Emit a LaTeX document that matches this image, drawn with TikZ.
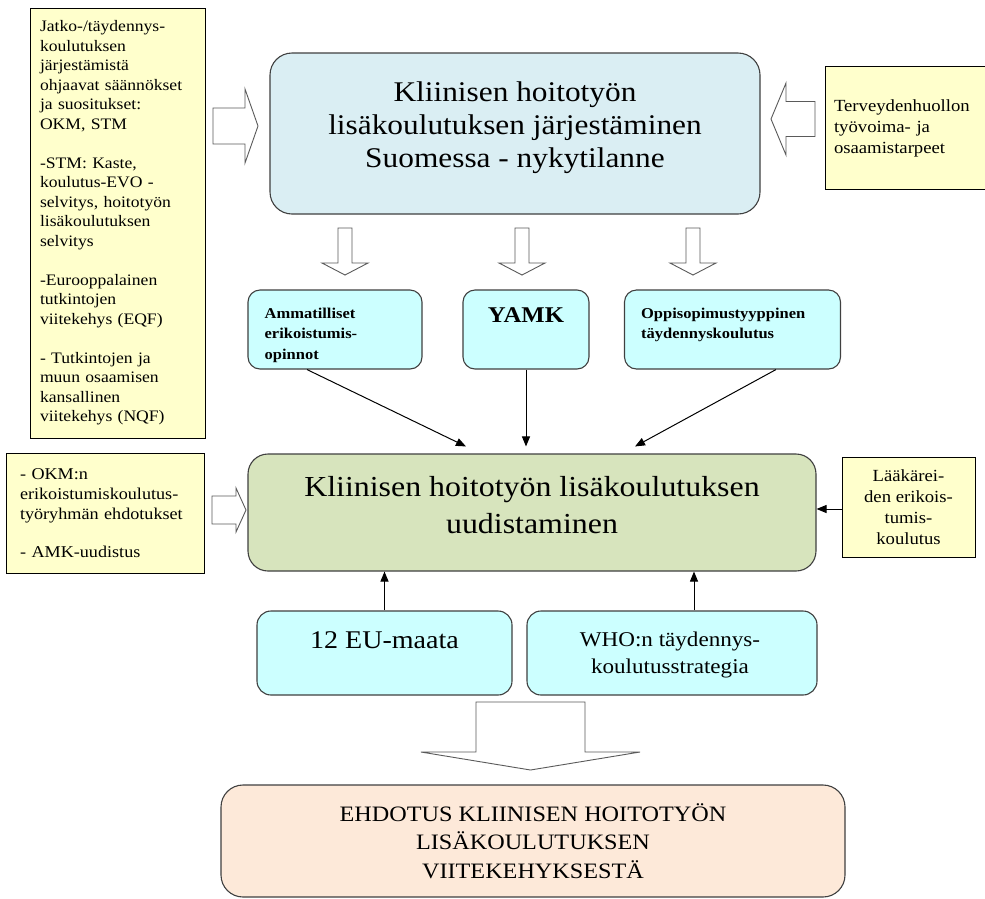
\documentclass[tikz,border=0pt]{standalone}
\usepackage{fontspec}
\setmainfont{Liberation Serif}[FakeStretch=1.1]
\usetikzlibrary{arrows.meta}
\definecolor{yel}{HTML}{FFFFCC}
\definecolor{topblue}{HTML}{DAEEF3}
\definecolor{cyanbox}{HTML}{CCFFFF}
\definecolor{greenbox}{HTML}{D7E4BD}
\definecolor{peach}{HTML}{FDE9D9}
\definecolor{edgegray}{HTML}{404040}
\definecolor{arrgray}{HTML}{5A5A5A}
\newcommand\fs[2]{\fontsize{#1}{#2}\selectfont}
% horizontal block arrow: start x, head base x, tip x, centre y, shaft half, head half
\newcommand\hblock[6]{\draw[blockarrow] (#1,#4-#5) -- (#2,#4-#5) -- (#2,#4-#6) -- (#3,#4) -- (#2,#4+#6) -- (#2,#4+#5) -- (#1,#4+#5) -- cycle;}
% vertical block arrow: centre x, start y, head base y, tip y, shaft half, head half
\newcommand\vblock[6]{\draw[blockarrow] (#1-#5,#2) -- (#1-#5,#3) -- (#1-#6,#3) -- (#1,#4) -- (#1+#6,#3) -- (#1+#5,#3) -- (#1+#5,#2) -- cycle;}
\begin{document}
\begin{tikzpicture}[x=1pt,y=-1pt,
  ybox/.style={draw=black, line width=1pt, fill=yel, rectangle, inner sep=0pt},
  rbox/.style={draw=edgegray, line width=1.1pt, rectangle, rounded corners=#1, inner sep=0pt},
  txt/.style={inner sep=0pt, align=center},
  blockarrow/.style={draw=arrgray, line width=0.9pt, fill=white, line join=miter},
  conn/.style={-{Triangle[length=10pt,width=8pt]}, line width=1pt, draw=black},
]
\useasboundingbox[fill=white] (0,0) rectangle (985,898);

% ---------- top row ----------
\node[ybox, minimum width=175pt, minimum height=430pt, align=left, text width=155pt,
      font=\fs{16}{19.5}] (l1) at (117.5,223) {Jatko-/täydennys-\\ koulutuksen\\ järjestämistä\\ ohjaavat säännökset\\ ja suositukset:\\ OKM, STM\\[19.5pt]
-STM: Kaste,\\ koulutus-EVO -\\ selvitys, hoitotyön\\ lisäkoulutuksen\\ selvitys\\[19.5pt]
-Eurooppalainen\\ tutkintojen\\ viitekehys (EQF)\\[19.5pt]
- Tutkintojen ja\\ muun osaamisen\\ kansallinen\\ viitekehys (NQF)};

\node[rbox=22pt, fill=topblue, minimum width=490pt, minimum height=161pt] (top) at (515,133.5) {};
\node[txt, font=\fs{28.5}{33}] (topt) at (515,128) {Kliinisen hoitotyön\\ lisäkoulutuksen järjestäminen\\ Suomessa - nykytilanne};

\node[ybox, minimum width=160pt, minimum height=123pt, align=left, text width=142pt,
      font=\fs{17}{21}] (r1) at (905,128) {Terveydenhuollon\\ työvoima- ja\\ osaamistarpeet};

\hblock{213}{245}{258}{126}{18}{37}
\hblock{815}{786}{771}{119}{17.5}{36}

% three small down arrows
\vblock{345}{228}{263}{275}{7}{23}
\vblock{522}{228}{263}{275}{7}{23}
\vblock{693}{228}{263}{275}{7}{23}

% ---------- second row ----------
\node[rbox=12pt, fill=cyanbox, minimum width=174pt, minimum height=79pt] (c1) at (335,329.5) {};
\node[rbox=12pt, fill=cyanbox, minimum width=126pt, minimum height=79pt] (c2) at (526,329.5) {};
\node[rbox=12pt, fill=cyanbox, minimum width=216pt, minimum height=79pt] (c3) at (732.5,329.5) {};
\node[anchor=north west, inner sep=0pt, align=left, font=\fs{15}{20.5}\bfseries] (c1t) at ([xshift=17pt,yshift=-18pt]c1.north west) {Ammatilliset\\ erikoistumis-\\ opinnot};
\node[inner sep=0pt, font=\fs{22.5}{24}\bfseries] (c2t) at ([yshift=-26pt]c2.north) {YAMK};
\node[anchor=north west, inner sep=0pt, align=left, font=\fs{15}{20.5}\bfseries] (c3t) at ([xshift=17pt,yshift=-18pt]c3.north west) {Oppisopimustyyppinen\\ täydennyskoulutus};

% ---------- middle row ----------
\node[rbox=20pt, fill=greenbox, minimum width=568pt, minimum height=117pt] (g) at (532,512.5) {};
\node[txt, font=\fs{29}{37}] (gt) at (532,505) {Kliinisen hoitotyön lisäkoulutuksen\\ uudistaminen};

\node[ybox, minimum width=198pt, minimum height=120pt, align=left, text width=170pt,
      font=\fs{16.5}{20}] (l2) at (105,513) {- OKM:n\\ erikoistumiskoulutus-\\ työryhmän ehdotukset\\[18pt] - AMK-uudistus};

\node[ybox, minimum width=133pt, minimum height=100pt, align=center,
      font=\fs{17}{21}] (r3) at (908.5,507) {Lääkärei-\\ den erikois-\\ tumis-\\ koulutus};

\hblock{212}{236}{246}{510}{14}{22}

\draw[conn] ([xshift=-28pt]c1.south) -- ([xshift=-66pt,yshift=7pt]g.north);
\draw[conn] (c2.south) -- ([xshift=-6pt,yshift=7pt]g.north);
\draw[conn] ([xshift=43.5pt]c3.south) -- ([xshift=103pt,yshift=7pt]g.north);
\draw[conn] ([yshift=-2pt]r3.west) -- ([yshift=-2pt]r3.west -| g.east);

% ---------- bottom row ----------
\node[rbox=14pt, fill=cyanbox, minimum width=255pt, minimum height=84pt] (e1) at (384.5,653) {};
\node[txt, font=\fs{25.5}{28}] (e1t) at (384.5,640) {12 EU-maata};
\node[rbox=14pt, fill=cyanbox, minimum width=290pt, minimum height=84pt] (e2) at (672,653) {};
\node[txt, font=\fs{21}{27}] (e2t) at (670,655) {WHO:n täydennys-\\ koulutusstrategia};

\draw[conn] (e1.north) -- (e1.north |- g.south);
\draw[conn] ([xshift=22pt]e2.north) -- ([xshift=22pt]e2.north |- g.south);

\vblock{530.5}{702}{752}{770}{54.5}{109.5}

\node[rbox=22pt, fill=peach, minimum width=624pt, minimum height=112pt, align=center,
      font=\fs{22}{28.5}] (b) at (533,841) {EHDOTUS KLIINISEN HOITOTYÖN\\ LISÄKOULUTUKSEN\\ VIITEKEHYKSESTÄ};
\end{tikzpicture}
\end{document}
